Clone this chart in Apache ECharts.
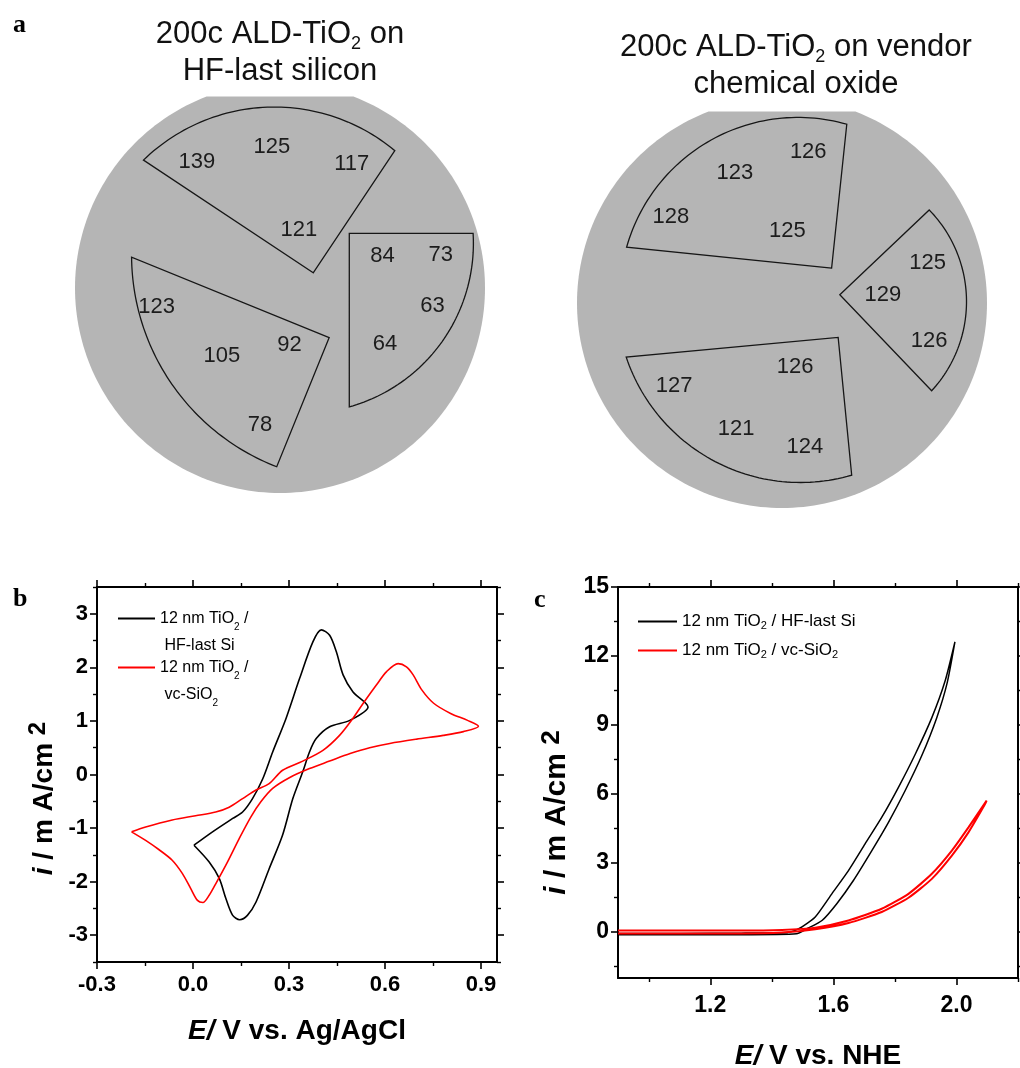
<!DOCTYPE html>
<html>
<head>
<meta charset="utf-8">
<script src="https://cdn.jsdelivr.net/npm/echarts@6.0.0/dist/echarts.min.js"></script>
<style>
  html, body { margin: 0; padding: 0; background: #fff; }
  #chart { width: 1020px; height: 1068px; }
</style>
</head>
<body>
<div id="chart"></div>
<script>
// ---- panel a: film thickness read on the two wafers (wafer coordinates, radius 50) ----
const hfLastValues = [139, 125, 117, 121, 84, 73, 63, 64, 123, 105, 92, 78];
const hfLastSites = [[-20.3, 30.7], [-2.0, 34.5], [17.5, 30.2], [4.6, 14.1], [25.0, 7.8], [39.2, 8.0],
  [37.2, -4.3], [25.6, -13.7], [-30.1, -4.6], [-14.2, -16.6], [2.3, -13.9], [-4.9, -33.4]];
const vcOxideValues = [126, 123, 128, 125, 125, 129, 126, 126, 127, 121, 124];
const vcOxideSites = [[6.4, 36.9], [-11.5, 31.8], [-27.1, 20.9], [1.3, 17.6], [35.5, 9.7], [24.6, 2.0],
  [35.9, -9.2], [3.2, -15.5], [-26.3, -20.2], [-11.2, -30.7], [5.6, -35.0]];
// piece outlines: corner x,y, arc start x,y, arc middle x,y, arc end x,y
const hfLastPieces = [
  [8.1, 3.7, -33.3, 31.2, -3.2, 44.1, 28.0, 33.5],
  [16.9, 13.3, 47.1, 13.3, 39.8, -12.7, 16.9, -29.0],
  [12.0, -12.1, -0.8, -43.6, -27.6, -21.6, -36.2, 7.5]
];
const vcOxidePieces = [
  [12.1, 8.5, -37.9, 13.6, -20.0, 38.1, 15.8, 43.6],
  [14.1, 2.0, 35.9, 22.7, 45.0, 0.7, 36.5, -21.4],
  [13.7, -8.4, 17.0, -42.0, -18.4, -37.5, -38.0, -13.2]
];
const waferRadius = 50;
const waferFlat = 46.7;

// ---- panel b: cyclic voltammograms (E vs Ag/AgCl, i in mA/cm2) ----
const cvHfE = [0.003, 0.061, 0.124, 0.155, 0.186, 0.218, 0.249, 0.291, 0.333, 0.375, 0.401, 0.427, 0.448, 0.469, 0.500, 0.547,
  0.490, 0.427, 0.385, 0.364, 0.343, 0.312, 0.280, 0.238, 0.197, 0.170, 0.146, 0.124, 0.103, 0.082, 0.050, 0.003];
const cvHfI = [-1.32, -1.07, -0.82, -0.70, -0.45, -0.08, 0.42, 1.05, 1.79, 2.48, 2.70, 2.60, 2.29, 1.86, 1.54, 1.26,
  1.01, 0.89, 0.67, 0.42, 0.05, -0.45, -1.13, -1.76, -2.38, -2.63, -2.71, -2.63, -2.32, -1.94, -1.63, -1.32];
const cvVcE = [-0.192, -0.148, -0.065, 0.008, 0.071, 0.113, 0.155, 0.197, 0.238, 0.280, 0.343, 0.406, 0.458, 0.500, 0.532,
  0.573, 0.605, 0.641, 0.667, 0.688, 0.715, 0.752, 0.805, 0.858, 0.892,
  0.845, 0.782, 0.699, 0.615, 0.552, 0.491, 0.427, 0.364, 0.301, 0.249, 0.212, 0.181, 0.144, 0.108, 0.071, 0.050,
  0.031, 0.014, -0.007, -0.033, -0.065, -0.107, -0.148, -0.192];
const cvVcI = [-1.07, -0.98, -0.85, -0.77, -0.70, -0.61, -0.45, -0.29, -0.17, 0.08, 0.25, 0.45, 0.73, 1.05, 1.33,
  1.67, 1.92, 2.07, 2.01, 1.86, 1.58, 1.33, 1.14, 1.01, 0.90,
  0.80, 0.73, 0.66, 0.58, 0.50, 0.39, 0.25, 0.11, -0.06, -0.26, -0.51, -0.79, -1.20, -1.63, -2.04, -2.26,
  -2.39, -2.35, -2.13, -1.85, -1.60, -1.40, -1.23, -1.07];

// ---- panel c: linear sweeps (E vs NHE) ----
const lsvHfE = [0.90, 1.10, 1.30, 1.45, 1.476, 1.498, 1.541, 1.595, 1.649, 1.703, 1.757, 1.811, 1.866, 1.920, 1.963, 1.995,
  1.970, 1.936, 1.887, 1.833, 1.779, 1.725, 1.665, 1.611, 1.563, 1.514, 1.48, 1.30, 1.10, 0.90];
const lsvHfI = [-0.06, -0.06, -0.05, -0.02, 0.07, 0.22, 0.65, 1.66, 2.67, 3.83, 4.98, 6.28, 7.73, 9.32, 10.91, 12.61,
  10.84, 9.32, 7.66, 6.14, 4.77, 3.54, 2.24, 1.23, 0.50, 0.14, -0.08, -0.12, -0.12, -0.12];
const lsvVcE = [0.90, 1.10, 1.30, 1.433, 1.541, 1.649, 1.757, 1.844, 1.920, 1.985, 2.039, 2.098,
  2.093, 2.039, 1.985, 1.920, 1.844, 1.757, 1.649, 1.541, 1.433, 1.30, 1.10, 0.90];
const lsvVcI = [0.06, 0.06, 0.06, 0.09, 0.19, 0.50, 1.01, 1.66, 2.53, 3.54, 4.55, 5.71,
  5.56, 4.33, 3.32, 2.31, 1.49, 0.87, 0.39, 0.12, -0.02, -0.06, -0.06, -0.06];

// tick labels
const cvTicksE = [-0.3, 0.0, 0.3, 0.6, 0.9];
const cvMinorE = [-0.15, 0.15, 0.45, 0.75];
const cvTicksI = [-3, -2, -1, 0, 1, 2, 3];
const cvMinorI = [-3.5, -2.5, -1.5, -0.5, 0.5, 1.5, 2.5, 3.5];
const lsvTicksE = [1.2, 1.6, 2.0];
const lsvMinorE = [1.0, 1.4, 1.8, 2.2];
const lsvTicksI = [0, 3, 6, 9, 12, 15];
const lsvMinorI = [-1.5, 1.5, 4.5, 7.5, 10.5, 13.5];

const sans = '"Liberation Sans", Arial, sans-serif';
const serif = '"Liberation Serif", "Times New Roman", serif';

const pairs = (xs, ys) => xs.map((x, i) => [x, ys[i]]);

function waferDisc(params, api) {
  const pts = [];
  for (let k = 0; k < 240; k++) {
    const t = k / 240 * 2 * Math.PI;
    pts.push(api.coord([waferRadius * Math.cos(t), Math.min(waferRadius * Math.sin(t), waferFlat)]));
  }
  return { type: 'polygon', shape: { points: pts }, style: { fill: '#b5b5b5' } };
}

function pieceOutline(params, api) {
  const p = [0, 1, 2, 3].map(k => api.coord([api.value(2 * k), api.value(2 * k + 1)]));
  const corner = p[0], a = p[1], m = p[2], b = p[3];
  // circle through the three arc points
  const d = 2 * (a[0] * (m[1] - b[1]) + m[0] * (b[1] - a[1]) + b[0] * (a[1] - m[1]));
  const sa = a[0] * a[0] + a[1] * a[1];
  const sm = m[0] * m[0] + m[1] * m[1];
  const sb = b[0] * b[0] + b[1] * b[1];
  const ux = (sa * (m[1] - b[1]) + sm * (b[1] - a[1]) + sb * (a[1] - m[1])) / d;
  const uy = (sa * (b[0] - m[0]) + sm * (a[0] - b[0]) + sb * (m[0] - a[0])) / d;
  const r = Math.hypot(a[0] - ux, a[1] - uy);
  const ang = q => Math.atan2(q[1] - uy, q[0] - ux);
  const norm = t => ((t % (2 * Math.PI)) + 2 * Math.PI) % (2 * Math.PI);
  const t0 = ang(a);
  let sweep = norm(ang(b) - t0);
  if (norm(ang(m) - t0) > sweep) sweep -= 2 * Math.PI;
  const pts = [corner];
  for (let k = 0; k <= 60; k++) {
    const t = t0 + sweep * k / 60;
    pts.push([ux + r * Math.cos(t), uy + r * Math.sin(t)]);
  }
  return { type: 'polygon', shape: { points: pts }, style: { fill: 'none', stroke: '#161616', lineWidth: 1.3 } };
}

function siteLabel(params, api) {
  const pt = api.coord([api.value(0), api.value(1)]);
  return {
    type: 'text', x: pt[0], y: pt[1],
    style: { text: String(api.value(2)), align: 'center', verticalAlign: 'middle',
      fontSize: 22, fontFamily: sans, fill: '#1c1c1c' }
  };
}

function waferAxis(gridIndex) {
  return { type: 'value', gridIndex, min: -55, max: 55, show: false };
}

// four axes per side pair: main (line, ticks, labels), mirror, and minor ticks on both
function frameAxes(gridIndex, pos, opp, min, max, major, minor, label, extra) {
  const line = { show: true, onZero: false, lineStyle: { color: '#000', width: 2 } };
  const noLine = { show: false, onZero: false };
  const tick = vals => ({ show: true, customValues: vals, length: 7, lineStyle: { color: '#000', width: 1.6 } });
  const minorTick = vals => ({ show: true, customValues: vals, length: 4, lineStyle: { color: '#000', width: 1.4 } });
  const base = { type: 'value', gridIndex, min, max, splitLine: { show: false } };
  return [
    Object.assign({}, base, { position: pos, axisLine: line, axisTick: tick(major),
      axisLabel: Object.assign({ customValues: major }, label) }, extra),
    Object.assign({}, base, { position: opp, axisLine: line, axisTick: tick(major), axisLabel: { show: false } }),
    Object.assign({}, base, { position: pos, axisLine: noLine, axisTick: minorTick(minor), axisLabel: { show: false } }),
    Object.assign({}, base, { position: opp, axisLine: noLine, axisTick: minorTick(minor), axisLabel: { show: false } })
  ];
}

const labelFont = { fontFamily: sans, fontWeight: 'bold', color: '#000' };

const nameRich = (size) => ({
  e: { fontFamily: sans, fontWeight: 'bold', fontStyle: 'italic', fontSize: size, lineHeight: 36, color: '#000' },
  t: { fontFamily: sans, fontWeight: 'bold', fontSize: size, lineHeight: 36, color: '#000' },
  p: { fontFamily: sans, fontWeight: 'bold', fontSize: size - 4, lineHeight: 16, verticalAlign: 'top', color: '#000' }
});

const legendRich = (size, lh, subLh) => ({
  n: { fontFamily: sans, fontSize: size, lineHeight: lh, color: '#000' },
  s: { fontFamily: sans, fontSize: Math.round(size * 0.62), lineHeight: subLh, verticalAlign: 'bottom', color: '#000' }
});

// panel b entries take two lines; an empty first line keeps the key level with the first text line
const legendText = {
  cvHf: '{n| }\n{n|12 nm TiO}{s|2}{n| /}\n{n| HF-last Si}',
  cvVc: '{n| }\n{n|12 nm TiO}{s|2}{n| /}\n{n| vc-SiO}{s|2}',
  lsvHf: '{n|12 nm TiO}{s|2}{n| / HF-last Si}',
  lsvVc: '{n|12 nm TiO}{s|2}{n| / vc-SiO}{s|2}'
};

const titleRich = {
  t: { fontFamily: sans, fontWeight: 'normal', fontSize: 31, lineHeight: 37, color: '#111' },
  s: { fontFamily: sans, fontWeight: 'normal', fontSize: 18, lineHeight: 16, verticalAlign: 'bottom', color: '#111' }
};
const letterStyle = { fontFamily: serif, fontWeight: 'bold', fontSize: 26, color: '#000' };

const xAxes = [waferAxis(0), waferAxis(1)]
  .concat(frameAxes(2, 'bottom', 'top', -0.3, 0.95, cvTicksE, cvMinorE,
    Object.assign({ formatter: v => v.toFixed(1), fontSize: 22, margin: 12 }, labelFont),
    { name: '{e|E/}{t| V vs. Ag/AgCl}', nameLocation: 'middle', nameGap: 51,
      nameTextStyle: { rich: nameRich(28) } }))
  .concat(frameAxes(3, 'bottom', 'top', 0.9, 2.2, lsvTicksE, lsvMinorE,
    Object.assign({ formatter: v => v.toFixed(1), fontSize: 23, margin: 16 }, labelFont),
    { name: '{e|E/}{t| V vs. NHE}', nameLocation: 'middle', nameGap: 60,
      nameTextStyle: { rich: nameRich(28) } }));

const yAxes = [waferAxis(0), waferAxis(1)]
  .concat(frameAxes(2, 'left', 'right', -3.5, 3.5, cvTicksI, cvMinorI,
    Object.assign({ formatter: v => String(v), fontSize: 22, margin: 9 }, labelFont),
    { name: '{e|i}{t| / m A/cm }{p|2}', nameLocation: 'middle', nameGap: 35,
      nameTextStyle: { padding: [0, 48, 0, 0], rich: nameRich(28) } }))
  .concat(frameAxes(3, 'left', 'right', -2, 15, lsvTicksI, lsvMinorI,
    Object.assign({ formatter: v => String(v), fontSize: 23, margin: 9 }, labelFont),
    { name: '{e|i}{t| / m A/cm }{p|2}', nameLocation: 'middle', nameGap: 43,
      nameTextStyle: { padding: [0, 60, 0, 0], rich: nameRich(30) } }));

const lineSeries = (name, axis, data, color, smooth, width) => ({
  name, type: 'line', xAxisIndex: axis, yAxisIndex: axis, data, showSymbol: false, symbol: 'none',
  smooth, itemStyle: { color }, lineStyle: { color, width }, animation: false, clip: true
});

const legendBase = {
  orient: 'vertical', padding: 0, icon: 'rect', itemHeight: 2, selectedMode: false,
  formatter: n => legendText[n]
};

const option = {
  animation: false,
  backgroundColor: '#fff',
  title: [
    { text: '{t|200c ALD-TiO}{s|2}{t| on}\n{t|HF-last silicon}', left: 280, top: 16, textAlign: 'center',
      padding: 0, textStyle: { rich: titleRich } },
    { text: '{t|200c ALD-TiO}{s|2}{t| on vendor}\n{t|chemical oxide}', left: 796, top: 29, textAlign: 'center',
      padding: 0, textStyle: { rich: titleRich } },
    { text: 'a', left: 13, top: 12, padding: 0, textStyle: letterStyle },
    { text: 'b', left: 13, top: 586, padding: 0, textStyle: letterStyle },
    { text: 'c', left: 534, top: 587, padding: 0, textStyle: letterStyle }
  ],
  legend: [
    Object.assign({}, legendBase, { data: ['cvHf'], left: 118, top: 578, itemWidth: 37,
      textStyle: { lineHeight: 27, rich: legendRich(16, 27, 18) } }),
    Object.assign({}, legendBase, { data: ['cvVc'], left: 118, top: 627, itemWidth: 37,
      textStyle: { lineHeight: 27, rich: legendRich(16, 27, 18) } }),
    Object.assign({}, legendBase, { data: ['lsvHf', 'lsvVc'], left: 638, top: 613, itemGap: 10.6, itemWidth: 39,
      textStyle: { rich: legendRich(17, 20, 10) } })
  ],
  grid: [
    { left: 54.5, top: 62.5, width: 451, height: 451, outerBoundsMode: 'none' },
    { left: 556.5, top: 77.5, width: 451, height: 451, outerBoundsMode: 'none' },
    { left: 97, top: 587, width: 400, height: 375, outerBoundsMode: 'none' },
    { left: 618, top: 587, width: 400, height: 391, outerBoundsMode: 'none' }
  ],
  xAxis: xAxes,
  yAxis: yAxes,
  series: [
    { type: 'custom', xAxisIndex: 0, yAxisIndex: 0, clip: false, renderItem: waferDisc, data: [[0, 0]], silent: true },
    { type: 'custom', xAxisIndex: 1, yAxisIndex: 1, clip: false, renderItem: waferDisc, data: [[0, 0]], silent: true },
    { type: 'custom', xAxisIndex: 0, yAxisIndex: 0, clip: false, renderItem: pieceOutline, data: hfLastPieces, silent: true },
    { type: 'custom', xAxisIndex: 1, yAxisIndex: 1, clip: false, renderItem: pieceOutline, data: vcOxidePieces, silent: true },
    { type: 'custom', xAxisIndex: 0, yAxisIndex: 0, clip: false, renderItem: siteLabel, silent: true,
      data: hfLastSites.map((s, i) => [s[0], s[1], hfLastValues[i]]) },
    { type: 'custom', xAxisIndex: 1, yAxisIndex: 1, clip: false, renderItem: siteLabel, silent: true,
      data: vcOxideSites.map((s, i) => [s[0], s[1], vcOxideValues[i]]) },
    lineSeries('cvHf', 2, pairs(cvHfE, cvHfI), '#000', 0.3, 1.6),
    lineSeries('cvVc', 2, pairs(cvVcE, cvVcI), '#ff0000', 0.3, 1.6),
    lineSeries('lsvHf', 6, pairs(lsvHfE, lsvHfI), '#000', 0.2, 1.5),
    lineSeries('lsvVc', 6, pairs(lsvVcE, lsvVcI), '#ff0000', 0.2, 2)
  ]
};

const chart = echarts.init(document.getElementById('chart'), null, { renderer: 'canvas' });
chart.setOption(option);
</script>
</body>
</html>
